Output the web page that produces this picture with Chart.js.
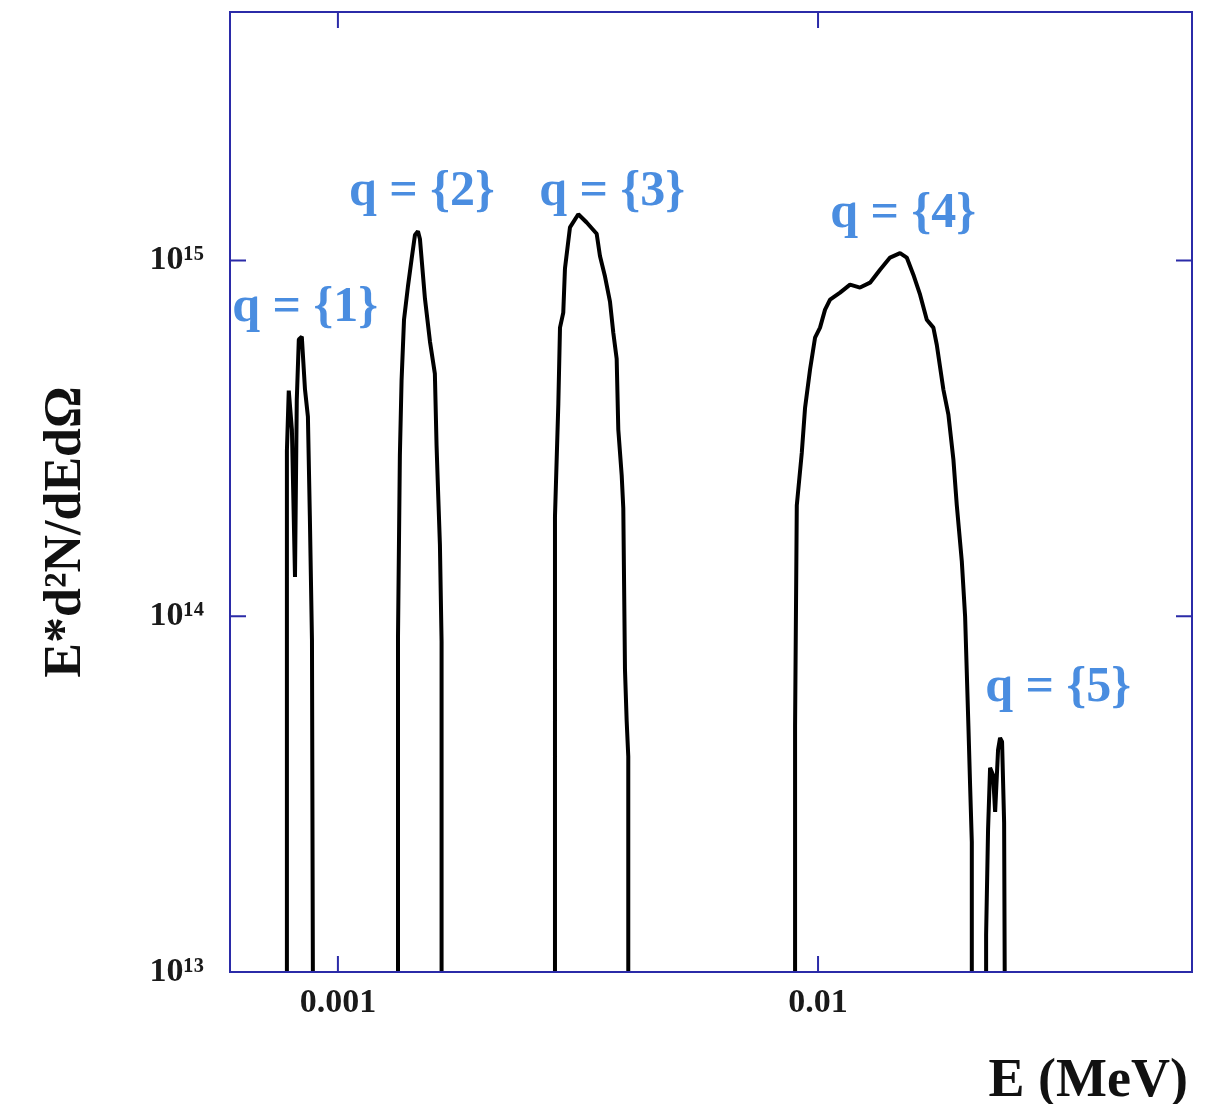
<!DOCTYPE html>
<html>
<head>
<meta charset="utf-8">
<script src="https://cdn.jsdelivr.net/npm/chart.js@4.4.1/dist/chart.umd.min.js"></script>
<style>
  html, body { margin: 0; padding: 0; background: #ffffff; }
</style>
</head>
<body>
<canvas id="chart" width="1217" height="1104"></canvas>
<script>
// spectrum, one peak per charge state
var peak1Energy = [7.83e-4, 7.83e-4, 7.90e-4, 8.02e-4, 8.14e-4, 8.21e-4, 8.29e-4, 8.41e-4, 8.54e-4, 8.66e-4, 8.74e-4, 8.83e-4, 8.91e-4];
var peak1Yield = [1e12, 2.92e14, 4.31e14, 3.35e14, 1.29e14, 4.06e14, 6.0e14, 6.11e14, 4.34e14, 3.64e14, 1.92e14, 8.59e13, 1e12];

var peak2Energy = [1.334e-3, 1.334e-3, 1.346e-3, 1.357e-3, 1.373e-3, 1.399e-3, 1.424e-3, 1.447e-3, 1.468e-3, 1.482e-3, 1.518e-3, 1.555e-3, 1.592e-3, 1.605e-3, 1.615e-3, 1.631e-3, 1.644e-3, 1.644e-3];
var peak2Yield = [1e12, 8.76e13, 2.83e14, 4.60e14, 6.82e14, 8.45e14, 1.01e15, 1.18e15, 1.21e15, 1.15e15, 7.82e14, 5.92e14, 4.81e14, 3.02e14, 2.34e14, 1.59e14, 8.48e13, 1e12];

var peak3Energy = [2.832e-3, 2.832e-3, 2.878e-3, 2.901e-3, 2.947e-3, 2.971e-3, 3.043e-3, 3.167e-3, 3.297e-3, 3.459e-3, 3.514e-3, 3.600e-3, 3.687e-3, 3.746e-3, 3.807e-3, 3.837e-3, 3.900e-3, 3.930e-3, 3.962e-3, 3.994e-3, 4.025e-3, 4.025e-3];
var peak3Yield = [1e12, 1.91e14, 3.96e14, 6.48e14, 7.14e14, 9.50e14, 1.24e15, 1.35e15, 1.28e15, 1.19e15, 1.03e15, 9.02e14, 7.67e14, 6.27e14, 5.30e14, 3.35e14, 2.49e14, 2.01e14, 7.07e13, 5.08e13, 4.03e13, 1e12];

var peak4Energy = [8.957e-3, 8.957e-3, 9.031e-3, 9.250e-3, 9.397e-3, 9.624e-3, 9.857e-3, 1.0096e-2, 1.0342e-2, 1.0593e-2, 1.1113e-2, 1.1659e-2, 1.2232e-2, 1.2833e-2, 1.3463e-2, 1.4125e-2, 1.4819e-2, 1.5303e-2, 1.5795e-2, 1.6313e-2, 1.6846e-2, 1.7387e-2, 1.7673e-2, 1.8242e-2, 1.8685e-2, 1.9139e-2, 1.9454e-2, 1.9926e-2, 2.0244e-2, 2.0567e-2, 2.0736e-2, 2.0906e-2, 2.0906e-2];
var peak4Yield = [1e12, 4.92e13, 2.05e14, 2.88e14, 3.86e14, 4.94e14, 6.07e14, 6.48e14, 7.28e14, 7.77e14, 8.13e14, 8.56e14, 8.40e14, 8.67e14, 9.43e14, 1.02e15, 1.05e15, 1.02e15, 9.13e14, 8.02e14, 6.82e14, 6.48e14, 5.80e14, 4.34e14, 3.69e14, 2.76e14, 2.05e14, 1.43e14, 1.00e14, 4.92e13, 3.34e13, 2.32e13, 1e12];

var peak5Energy = [2.239e-2, 2.239e-2, 2.260e-2, 2.282e-2, 2.315e-2, 2.338e-2, 2.371e-2, 2.394e-2, 2.417e-2, 2.441e-2, 2.464e-2];
var peak5Yield = [1e12, 1.27e13, 2.51e13, 3.75e13, 3.58e13, 2.82e13, 4.21e13, 4.55e13, 4.44e13, 2.63e13, 1e12];

// axis ticks
var xTicks = [0.001, 0.01];
var yTicks = [1e13, 1e14, 1e15];

// charge state labels and where they sit (energy, yield)
var labelText = ["q = {1}", "q = {2}", "q = {3}", "q = {4}", "q = {5}"];
var labelEnergy = [8.54e-4, 1.496e-3, 3.723e-3, 1.503e-2, 3.162e-2];
var labelYield = [7.37e14, 1.56e15, 1.56e15, 1.35e15, 6.29e13];

var frameColor = "#2b2ba8";
var labelColor = "#4a8de0";
var serif = "'Liberation Serif', 'DejaVu Serif', serif";

var sup = { "0": "\u2070", "1": "\u00b9", "2": "\u00b2", "3": "\u00b3", "4": "\u2074", "5": "\u2075", "6": "\u2076", "7": "\u2077", "8": "\u2078", "9": "\u2079" };

function toPoints(energy, yields) {
  return energy.map(function (e, i) {
    return { x: e, y: yields[i] };
  });
}

function peakDataset(energy, yields) {
  return {
    data: toPoints(energy, yields),
    borderColor: "#000000",
    borderWidth: 4,
    borderJoinStyle: "bevel",
    pointRadius: 0,
    fill: false,
    tension: 0,
  };
}

var decorPlugin = {
  id: "decor",
  afterDatasetsDraw: function (chart) {
    var ctx = chart.ctx;
    var xs = chart.scales.x;
    var ys = chart.scales.y;
    ctx.save();
    ctx.fillStyle = labelColor;
    ctx.font = "bold 50px " + serif;
    ctx.textAlign = "center";
    ctx.textBaseline = "middle";
    labelText.forEach(function (t, i) {
      ctx.fillText(t, xs.getPixelForValue(labelEnergy[i]), ys.getPixelForValue(labelYield[i]));
    });
    ctx.restore();
  },
  afterDraw: function (chart) {
    var ctx = chart.ctx;
    var a = chart.chartArea;
    var xs = chart.scales.x;
    var ys = chart.scales.y;
    var tick = 16;
    ctx.save();
    ctx.strokeStyle = frameColor;
    ctx.lineWidth = 2;
    ctx.strokeRect(a.left, a.top, a.right - a.left, a.bottom - a.top);
    ctx.beginPath();
    xTicks.forEach(function (v) {
      var px = xs.getPixelForValue(v);
      ctx.moveTo(px, a.bottom);
      ctx.lineTo(px, a.bottom - tick);
      ctx.moveTo(px, a.top);
      ctx.lineTo(px, a.top + tick);
    });
    yTicks.forEach(function (v) {
      var py = ys.getPixelForValue(v);
      if (py <= a.top + 1 || py >= a.bottom - 1) return;
      ctx.moveTo(a.left, py);
      ctx.lineTo(a.left + tick, py);
      ctx.moveTo(a.right, py);
      ctx.lineTo(a.right - tick, py);
    });
    ctx.stroke();

    // axis titles
    ctx.fillStyle = "#111111";
    ctx.font = "bold 54px " + serif;
    ctx.textAlign = "right";
    ctx.textBaseline = "alphabetic";
    ctx.fillText("E (MeV)", a.right - 4, 1096);

    ctx.translate(80, 532);
    ctx.rotate(-Math.PI / 2);
    ctx.textAlign = "center";
    ctx.font = "bold 52px " + serif;
    ctx.fillText("E*d\u00b2N/dEd\u03a9", 0, 0);
    ctx.restore();
  },
};

var config = {
  type: "line",
  data: {
    datasets: [
      peakDataset(peak1Energy, peak1Yield),
      peakDataset(peak2Energy, peak2Yield),
      peakDataset(peak3Energy, peak3Yield),
      peakDataset(peak4Energy, peak4Yield),
      peakDataset(peak5Energy, peak5Yield),
    ],
  },
  options: {
    responsive: false,
    animation: false,
    layout: { padding: { top: 12, right: 25, left: 0, bottom: 0 } },
    plugins: {
      legend: { display: false },
      tooltip: { enabled: false },
    },
    scales: {
      x: {
        type: "logarithmic",
        min: 5.96e-4,
        max: 0.0601,
        grid: { display: false, drawTicks: false },
        border: { display: false },
        afterBuildTicks: function (scale) {
          scale.ticks = xTicks.map(function (v) { return { value: v }; });
        },
        afterFit: function (scale) {
          scale.height = 132;
          scale.paddingLeft = 0;
          scale.paddingRight = 0;
        },
        ticks: {
          padding: 11,
          maxRotation: 0,
          color: "#1a1a1a",
          font: { family: serif, size: 34, weight: "bold" },
          callback: function (v) { return String(v); },
        },
      },
      y: {
        type: "logarithmic",
        min: 1e13,
        max: 5.0e15,
        grid: { display: false, drawTicks: false },
        border: { display: false },
        afterBuildTicks: function (scale) {
          scale.ticks = yTicks.map(function (v) { return { value: v }; });
        },
        afterFit: function (scale) {
          scale.width = 230;
          scale.paddingTop = 0;
          scale.paddingBottom = 0;
        },
        ticks: {
          padding: 26,
          color: "#1a1a1a",
          font: { family: serif, size: 34, weight: "bold" },
          callback: function (v) {
            var p = String(Math.round(Math.log10(v)));
            return "10" + p.split("").map(function (c) { return sup[c]; }).join("");
          },
        },
      },
    },
  },
  plugins: [decorPlugin],
};

var canvasElement = document.getElementById("chart");
var spectrumChart = new Chart(canvasElement, config);
</script>
</body>
</html>
